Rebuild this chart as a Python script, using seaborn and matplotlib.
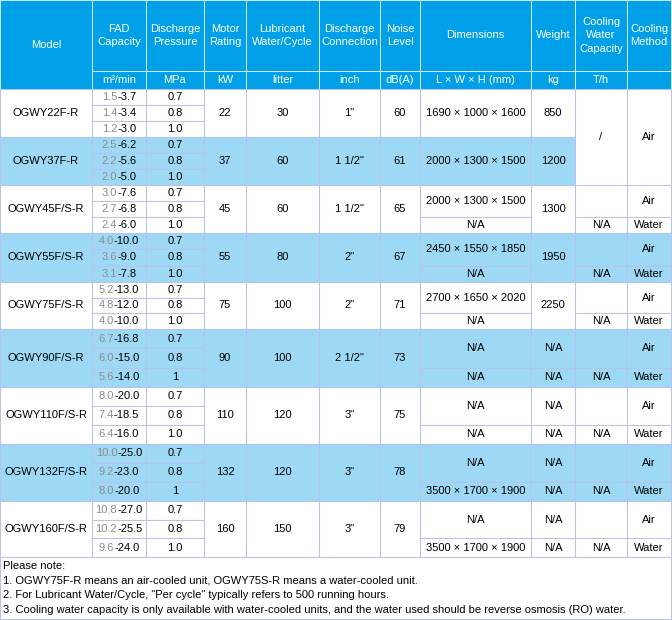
import matplotlib.pyplot as plt
import matplotlib.patches as mpatches
import seaborn as sns

# Table data
models = ['OGWY22F-R', 'OGWY37F-R', 'OGWY45F/S-R', 'OGWY55F/S-R', 'OGWY75F/S-R',
          'OGWY90F/S-R', 'OGWY110F/S-R', 'OGWY132F/S-R', 'OGWY160F/S-R']
fad_low = [[1.5, 1.4, 1.2], [2.5, 2.2, 2.0], [3.0, 2.7, 2.4], [4.0, 3.6, 3.1], [5.2, 4.8, 4.0],
           [6.7, 6.0, 5.6], [8.0, 7.4, 6.4], [10.0, 9.2, 8.0], [10.8, 10.2, 9.6]]
fad_high = [[3.7, 3.4, 3.0], [6.2, 5.6, 5.0], [7.6, 6.8, 6.0], [10.0, 9.0, 7.8], [13.0, 12.0, 10.0],
            [16.8, 15.0, 14.0], [20.0, 18.5, 16.0], [25.0, 23.0, 20.0], [27.0, 25.5, 24.0]]
pressures = [['0.7', '0.8', '1.0'], ['0.7', '0.8', '1.0'], ['0.7', '0.8', '1.0'],
             ['0.7', '0.8', '1.0'], ['0.7', '0.8', '1.0'], ['0.7', '0.8', '1'],
             ['0.7', '0.8', '1.0'], ['0.7', '0.8', '1'], ['0.7', '0.8', '1.0']]
motor_kw = [22, 37, 45, 55, 75, 90, 110, 132, 160]
lubricant = [30, 60, 60, 80, 100, 100, 120, 120, 150]
connection = ['1"', '1 1/2"', '1 1/2"', '2"', '2"', '2 1/2"', '3"', '3"', '3"']
noise = [60, 61, 65, 67, 71, 73, 75, 78, 79]
dims_air = ['1690 × 1000 × 1600', '2000 × 1300 × 1500', '2000 × 1300 × 1500',
            '2450 × 1550 × 1850', '2700 × 1650 × 2020', 'N/A', 'N/A', 'N/A', 'N/A']
dims_water = [None, None, 'N/A', 'N/A', 'N/A', 'N/A', 'N/A',
              '3500 × 1700 × 1900', '3500 × 1700 × 1900']
weight_air = ['850', '1200', '1300', '1950', '2250', 'N/A', 'N/A', 'N/A', 'N/A']
weight_water = [None, None, None, None, None, 'N/A', 'N/A', 'N/A', 'N/A']

headers = ['Model', 'FAD\nCapacity', 'Discharge\nPressure', 'Motor\nRating',
           'Lubricant\nWater/Cycle', 'Discharge\nConnection', 'Noise\nLevel',
           'Dimensions', 'Weight', 'Cooling\nWater\nCapacity', 'Cooling\nMethod']
units = [None, 'm³/min', 'MPa', 'kW', 'litter', 'inch', 'dB(A)',
         'L × W × H (mm)', 'kg', 'T/h', '']

notes = ['Please note:',
         '1. OGWY75F-R means an air-cooled unit, OGWY75S-R means a water-cooled unit.',
         '2. For Lubricant Water/Cycle, "Per cycle" typically refers to 500 running hours.',
         '3. Cooling water capacity is only available with water-cooled units, and the water used should be reverse osmosis (RO) water.']

# Colours
HEADER_BLUE = '#00A0E9'
HEADER_LINE = '#CBE8F8'
ROW_BLUE = '#9DD9F5'
GRID = '#B9C1EC'
TEXT = '#000000'
GRAY = '#8C8C8C'

# Layout (pixels)
col_x = [0, 92, 146, 204, 246, 319, 380, 420, 531, 575, 627, 671]
head_y = [0, 70.7, 89.3]
group_y = [89.3, 137.3, 185.3, 233.3, 281.7, 329.3, 386.7, 443.7, 500.7, 557.3]
note_y = [566, 580.3, 595.3, 610.3]
FS = 8

sns.set_theme(style='white')
plt.rcParams['font.family'] = ['Liberation Sans', 'DejaVu Sans']

fig = plt.figure(figsize=(6.72, 6.2), dpi=100)
ax = fig.add_axes([0, 0, 1, 1])
ax.set_xlim(0, 672)
ax.set_ylim(620, 0)
ax.axis('off')
renderer = fig.canvas.get_renderer()


def cell(c0, c1, y0, y1, text='', bg='white', edge=GRID, color=TEXT, spacing=1.15):
    x0, x1 = col_x[c0], col_x[c1]
    ax.add_patch(mpatches.Rectangle((x0, y0), x1 - x0, y1 - y0, facecolor=bg,
                                    edgecolor=edge, linewidth=0.75))
    if text:
        ax.text((x0 + x1) / 2, (y0 + y1) / 2, text, ha='center', va='center',
                fontsize=FS, color=color, linespacing=spacing)


def fad_text(cx, cy, low, high):
    # first number grey, the rest black, whole string centred
    left = f'{low:.1f}'
    right = f'-{high:.1f}'
    probe = ax.text(0, 0, left + right, fontsize=FS)
    w = probe.get_window_extent(renderer).width
    probe.remove()
    t1 = ax.text(cx - w / 2, cy, left, ha='left', va='center', fontsize=FS, color=GRAY)
    w1 = t1.get_window_extent(renderer).width
    ax.text(cx - w / 2 + w1, cy, right, ha='left', va='center', fontsize=FS, color=TEXT)


# Header
cell(0, 1, head_y[0], head_y[2], headers[0], bg=HEADER_BLUE, edge=HEADER_LINE, color='white')
for c in range(1, 11):
    cell(c, c + 1, head_y[0], head_y[1], headers[c], bg=HEADER_BLUE, edge=HEADER_LINE,
         color='white', spacing=1.42)
    cell(c, c + 1, head_y[1], head_y[2], units[c], bg=HEADER_BLUE, edge=HEADER_LINE, color='white')

# Body
for g in range(len(models)):
    y0, y1 = group_y[g], group_y[g + 1]
    h = (y1 - y0) / 3
    ys = y0 + 2 * h
    bg = ROW_BLUE if g % 2 else 'white'

    cell(0, 1, y0, y1, models[g], bg=bg)
    for k in range(3):
        cell(1, 2, y0 + k * h, y0 + (k + 1) * h, bg=bg)
        fad_text((col_x[1] + col_x[2]) / 2, y0 + (k + 0.5) * h, fad_low[g][k], fad_high[g][k])
        cell(2, 3, y0 + k * h, y0 + (k + 1) * h, pressures[g][k], bg=bg)
    cell(3, 4, y0, y1, str(motor_kw[g]), bg=bg)
    cell(4, 5, y0, y1, str(lubricant[g]), bg=bg)
    cell(5, 6, y0, y1, connection[g], bg=bg)
    cell(6, 7, y0, y1, str(noise[g]), bg=bg)

    if dims_water[g] is None:
        cell(7, 8, y0, y1, dims_air[g], bg=bg)
    else:
        cell(7, 8, y0, ys, dims_air[g], bg=bg)
        cell(7, 8, ys, y1, dims_water[g], bg=bg)
    if weight_water[g] is None:
        cell(8, 9, y0, y1, weight_air[g], bg=bg)
    else:
        cell(8, 9, y0, ys, weight_air[g], bg=bg)
        cell(8, 9, ys, y1, weight_water[g], bg=bg)

    if g >= 2:
        cell(9, 10, y0, ys, '', bg=bg)
        cell(9, 10, ys, y1, 'N/A', bg=bg)
        cell(10, 11, y0, ys, 'Air', bg=bg)
        cell(10, 11, ys, y1, 'Water', bg=bg)

# first two models share the cooling cells
cell(9, 10, group_y[0], group_y[2], '/')
cell(10, 11, group_y[0], group_y[2], 'Air')

# Notes
ax.add_patch(mpatches.Rectangle((col_x[0], group_y[-1]), col_x[-1] - col_x[0], 619.3 - group_y[-1],
                                facecolor='white', edgecolor=GRID, linewidth=0.75))
for line, y in zip(notes, note_y):
    ax.text(3, y, line, ha='left', va='center', fontsize=FS, color=TEXT)

fig.savefig('out.png', dpi=100, facecolor='white')
